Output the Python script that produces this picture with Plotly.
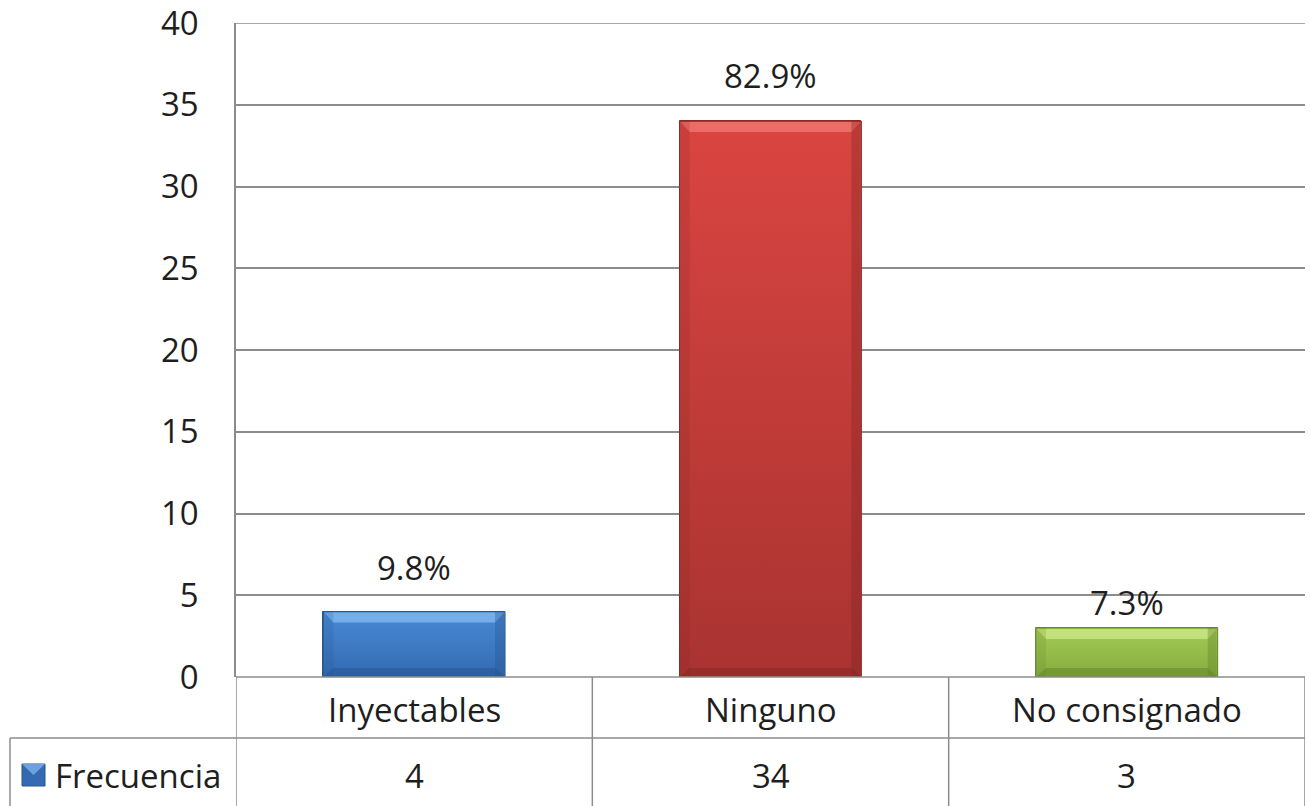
import plotly.graph_objects as go

# Data
categories = ["Inyectables", "Ninguno", "No consignado"]
frecuencia = [4, 34, 3]
series_name = "Frecuencia"
y_ticks = [0, 5, 10, 15, 20, 25, 30, 35, 40]

total = sum(frecuencia)
pct_labels = [f"{v / total * 100:.1f}%" for v in frecuencia]

# Styles
W, H = 1310, 806
L, R, T, B = 236, 5, 23, 129
FONT = "Open Sans"
FS = 33
TXT = "#1e1e1e"
GRID = "#8c8c8c"
bar_frac = 0.51
top_col = ["#4A8AD6", "#DA4541", "#A3CB55"]
bot_col = ["#336AB2", "#A93331", "#84AD3F"]
light_col = ["#86BBF2", "#F27B76", "#CDE88A"]
dark_col = ["#24528C", "#7E2523", "#5F7F29"]
edge_col = ["#2A5688", "#8A2A27", "#6A8A32"]
label_shift = [44, 46, 25]

plot_w = W - L - R
plot_h = H - T - B
hw = plot_w / len(categories) * bar_frac / 2
bev = 10

fig = go.Figure()
xs = list(range(len(categories)))
fig.add_trace(go.Bar(
    x=xs, y=frecuencia, width=bar_frac,
    marker=dict(color=bot_col, line=dict(color=edge_col, width=1)),
    name=series_name, showlegend=False, hoverinfo="skip",
))

# Vertical gradient fill over each bar
hb = bar_frac / 2
for i, v in enumerate(frecuencia):
    fig.add_trace(go.Scatter(
        x=[i - hb, i + hb, i + hb, i - hb, i - hb], y=[0, 0, v, v, 0],
        mode="lines", line=dict(width=1, color=edge_col[i]), fill="toself",
        fillgradient=dict(type="vertical", colorscale=[[0, bot_col[i]], [1, top_col[i]]]),
        showlegend=False, hoverinfo="skip",
    ))

shapes = []
annotations = []
for i, v in enumerate(frecuencia):
    pix = dict(type="path", xref="x", yref="y", xsizemode="pixel", ysizemode="pixel",
               xanchor=i, line=dict(width=0), layer="above")
    # top bevel
    shapes.append(dict(pix, yanchor=v,
                       path=f"M {-hw+1},-1 L {hw-1},-1 L {hw-bev},-{bev+1} L {-hw+bev},-{bev+1} Z",
                       fillcolor=light_col[i], opacity=0.75))
    # bottom bevel
    shapes.append(dict(pix, yanchor=0,
                       path=f"M {-hw+1},1 L {hw-1},1 L {hw-bev},{bev-1} L {-hw+bev},{bev-1} Z",
                       fillcolor=dark_col[i], opacity=0.45))
    # side bevels
    for side, op in ((-1, 0.18), (1, 0.35)):
        shapes.append(dict(type="rect", xref="x", yref="y", xsizemode="pixel", xanchor=i,
                           x0=side * (hw - 1), x1=side * (hw - bev), y0=0, y1=v,
                           fillcolor=dark_col[i], opacity=op, line=dict(width=0), layer="above"))
    annotations.append(dict(x=i, y=v, xref="x", yref="y", text=pct_labels[i], showarrow=False,
                            yanchor="middle", yshift=label_shift[i],
                            font=dict(family=FONT, size=FS, color=TXT)))

line_style = dict(color=GRID, width=1.5)

# Top gridline at the axis maximum
shapes.append(dict(type="line", xref="paper", yref="y", x0=0, x1=1, y0=y_ticks[-1], y1=y_ticks[-1],
                   line=line_style, layer="below"))

# Data table below the plot area
row_h = 61 / plot_h
y_row1_bot = -row_h
y_row2_bot = -(B + 5) / plot_h
x_left_paper = (10 - L) / plot_w
x_edges = [-0.5 + k for k in range(len(categories) + 1)]
for xe in x_edges:
    shapes.append(dict(type="line", xref="x", yref="paper", x0=xe, x1=xe, y0=0, y1=y_row2_bot,
                       line=line_style, layer="above"))
shapes.append(dict(type="line", xref="paper", yref="paper", x0=0, x1=1, y0=0, y1=0,
                   line=line_style, layer="above"))
shapes.append(dict(type="line", xref="paper", yref="paper", x0=x_left_paper, x1=1, y0=y_row1_bot, y1=y_row1_bot,
                   line=line_style))
shapes.append(dict(type="line", xref="paper", yref="paper", x0=x_left_paper, x1=x_left_paper,
                   y0=y_row1_bot, y1=y_row2_bot, line=line_style))

row1_c = -32 / plot_h
row2_c = -98 / plot_h
for i, c in enumerate(categories):
    annotations.append(dict(x=i, y=row1_c, xref="x", yref="paper", text=c, showarrow=False,
                            yanchor="middle", font=dict(family=FONT, size=FS, color=TXT)))
    annotations.append(dict(x=i, y=row2_c, xref="x", yref="paper", text=str(frecuencia[i]), showarrow=False,
                            yanchor="middle", font=dict(family=FONT, size=FS, color=TXT)))

# Legend key in the table header cell
kx0 = (22 - L) / plot_w
kx1 = (45 - L) / plot_w
ky = 11 / plot_h
shapes.append(dict(type="rect", xref="paper", yref="paper", x0=kx0, x1=kx1,
                   y0=row2_c - ky, y1=row2_c + ky,
                   fillcolor=bot_col[0], line=dict(color=edge_col[0], width=1)))
shapes.append(dict(type="path", xref="paper", yref="paper",
                   path=(f"M {kx0},{row2_c + ky} L {kx1},{row2_c + ky} "
                         f"L {(kx0 + kx1) / 2},{row2_c} Z"),
                   fillcolor=light_col[0], opacity=0.7, line=dict(width=0)))
annotations.append(dict(x=(53 - L) / plot_w, y=row2_c, xref="paper", yref="paper", text=series_name,
                        showarrow=False, xanchor="left", yanchor="middle",
                        font=dict(family=FONT, size=FS, color=TXT)))

fig.update_layout(
    width=W, height=H,
    margin=dict(l=L, r=R, t=T, b=B, autoexpand=False),
    plot_bgcolor="white", paper_bgcolor="white",
    bargap=0, barmode="overlay",
    shapes=shapes, annotations=annotations,
    xaxis=dict(range=[-0.5, len(categories) - 0.5], showticklabels=False, showgrid=False,
               zeroline=False, showline=False, fixedrange=True),
    yaxis=dict(range=[0, 40], tickvals=y_ticks, showgrid=True, gridcolor=GRID, gridwidth=1.5,
               zeroline=False, showline=True, linecolor=GRID, linewidth=1.5,
               ticks="", ticklabelstandoff=29, ticklabeloverflow="allow",
               tickfont=dict(family=FONT, size=FS, color=TXT)),
)

fig.write_html("out.html")
